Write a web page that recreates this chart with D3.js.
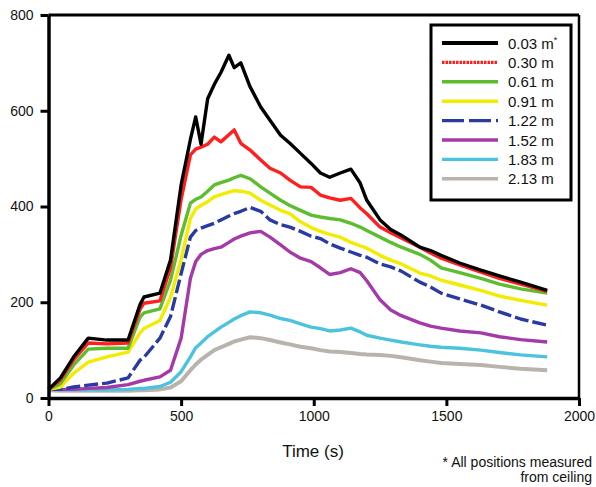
<!DOCTYPE html>
<html>
<head>
<meta charset="utf-8">
<script src="https://cdn.jsdelivr.net/npm/d3@7"></script>
<style>
  html, body { margin: 0; padding: 0; background: #fff; }
  svg { display: block; font-family: "Liberation Sans", Arial, sans-serif; }
</style>
</head>
<body>
<svg id="chart" width="596" height="487"></svg>
<script>
// ---- Data ----
const times = [0, 45, 95, 150, 220, 300, 345, 360, 420, 460, 500, 535, 555, 575, 600, 625, 650, 680, 700, 725, 760, 800, 835, 875, 910, 950, 990, 1025, 1060, 1100, 1140, 1175, 1200, 1250, 1290, 1330, 1400, 1440, 1480, 1550, 1630, 1700, 1780, 1880];

const s003 = [18, 42, 86, 125, 121, 121, 195, 211, 219, 288, 445, 540, 587, 530, 625, 655, 680, 716, 690, 700, 650, 608, 580, 549, 532, 511, 490, 470, 461, 470, 478, 449, 413, 372, 352, 340, 315, 308, 298, 282, 267, 255, 242, 225];
const s030 = [18, 38, 80, 115, 113, 115, 185, 198, 203, 272, 415, 508, 520, 524, 530, 545, 535, 550, 560, 532, 518, 497, 480, 470, 455, 441, 440, 424, 418, 413, 417, 397, 385, 357, 345, 334, 315, 303, 292, 278, 263, 250, 238, 223];
const s061 = [18, 30, 69, 102, 104, 104, 169, 178, 186, 246, 340, 407, 415, 420, 432, 445, 450, 455, 460, 465, 458, 441, 428, 413, 402, 392, 382, 378, 375, 372, 365, 357, 350, 336, 325, 315, 300, 288, 272, 262, 250, 238, 228, 219];
const s091 = [18, 23, 52, 75, 86, 96, 136, 145, 162, 210, 290, 375, 395, 402, 410, 420, 425, 430, 433, 432, 428, 413, 403, 392, 385, 368, 356, 348, 342, 336, 325, 318, 313, 298, 288, 280, 261, 255, 246, 236, 225, 213, 204, 194];
const s122 = [18, 18, 23, 27, 31, 42, 79, 85, 125, 170, 260, 336, 350, 355, 360, 365, 372, 380, 385, 390, 398, 390, 372, 362, 357, 348, 338, 333, 322, 313, 305, 298, 294, 280, 274, 265, 242, 232, 219, 207, 194, 180, 165, 152];
const s152 = [18, 18, 18, 20, 22, 28, 35, 37, 44, 58, 125, 250, 285, 300, 308, 312, 315, 325, 332, 338, 345, 348, 336, 320, 305, 292, 285, 272, 258, 262, 270, 262, 245, 205, 184, 172, 157, 150, 146, 140, 136, 128, 122, 117];
const s183 = [18, 17, 17, 17, 17, 18, 20, 20, 24, 33, 55, 86, 105, 115, 128, 138, 148, 158, 165, 172, 180, 178, 173, 166, 162, 155, 148, 145, 140, 142, 146, 138, 131, 125, 121, 117, 111, 108, 106, 104, 100, 95, 90, 86];
const s213 = [16, 15, 15, 15, 15, 15, 16, 16, 18, 22, 35, 58, 70, 80, 90, 100, 106, 113, 118, 122, 127, 125, 121, 116, 112, 107, 104, 100, 97, 96, 94, 92, 91, 90, 88, 85, 79, 76, 73, 71, 69, 65, 61, 58];

const seriesNames = ["0.03 m", "0.30 m", "0.61 m", "0.91 m", "1.22 m", "1.52 m", "1.83 m", "2.13 m"];
const seriesValues = [s003, s030, s061, s091, s122, s152, s183, s213];
const seriesColors = ["#000000", "#ff1f1f", "#5cbd2e", "#f2ec00", "#2a3aa3", "#a43aa8", "#4cc3dc", "#b8b3ad"];
const plotDash = [null, null, null, null, "14,4", null, null, null];
const legendDash = [null, "2.5,1", null, null, "22,5", null, null, null];

const xTicks = [0, 500, 1000, 1500, 2000];
const yTicks = [0, 200, 400, 600, 800];

// ---- Chart ----
const svg = d3.select("#chart");
const x = d3.scaleLinear().domain([0, 2000]).range([48.5, 579]);
const y = d3.scaleLinear().domain([0, 800]).range([398, 15]);

svg.append("rect").attr("width", 596).attr("height", 487).attr("fill", "#fff");

// lines (drawn bottom series first so black ends on top)
const line = d3.line().x(d => x(d[0])).y(d => y(d[1])).curve(d3.curveLinear);
const order = d3.range(seriesValues.length).reverse();
svg.append("g").selectAll("path")
  .data(order)
  .join("path")
  .attr("d", i => line(times.map((t, k) => [t, seriesValues[i][k]])))
  .attr("fill", "none")
  .attr("stroke", i => seriesColors[i])
  .attr("stroke-width", i => i === 7 ? 4 : 3.4)
  .attr("stroke-dasharray", i => plotDash[i])
  .attr("stroke-linejoin", "round");

// frame top & right
svg.append("line").attr("x1", x(0)).attr("x2", x(2000)).attr("y1", y(800)).attr("y2", y(800))
  .attr("stroke", "#000").attr("stroke-width", 3);
svg.append("line").attr("x1", x(2000)).attr("x2", x(2000)).attr("y1", y(800)).attr("y2", y(0))
  .attr("stroke", "#000").attr("stroke-width", 2.5);

// axes
const xAxis = d3.axisBottom(x).tickValues(xTicks).tickFormat(d3.format("d"))
  .tickSize(8).tickSizeOuter(0).tickPadding(5);
const yAxis = d3.axisLeft(y).tickValues(yTicks).tickFormat(d3.format("d"))
  .tickSize(8).tickSizeOuter(0).tickPadding(7);

const gx = svg.append("g").attr("transform", `translate(0,${y(0)})`).call(xAxis);
const gy = svg.append("g").attr("transform", `translate(${x(0)},0)`).call(yAxis);
[gx, gy].forEach(g => {
  g.select(".domain").attr("stroke", "#000").attr("stroke-width", 3.5);
  g.selectAll(".tick line").attr("stroke", "#000").attr("stroke-width", 3);
  g.selectAll(".tick text").attr("fill", "#111").attr("font-size", 14)
    .attr("font-family", "'Liberation Sans', Arial, sans-serif");
});

// axis title
svg.append("text").attr("x", 313).attr("y", 457).attr("text-anchor", "middle")
  .attr("font-size", 17).attr("fill", "#111").text("Time (s)");

// footnote
svg.append("text").attr("x", 592).attr("y", 467).attr("text-anchor", "end")
  .attr("font-size", 14).attr("fill", "#111").text("* All positions measured");
svg.append("text").attr("x", 592).attr("y", 482).attr("text-anchor", "end")
  .attr("font-size", 14).attr("fill", "#111").text("from ceiling");

// legend
const lg = svg.append("g");
lg.append("rect").attr("x", 431).attr("y", 25).attr("width", 140).attr("height", 175)
  .attr("fill", "#fff").attr("stroke", "#000").attr("stroke-width", 3);
const rowY = i => 43 + i * 19.4;
seriesNames.forEach((name, i) => {
  lg.append("line").attr("x1", 442).attr("x2", 498).attr("y1", rowY(i)).attr("y2", rowY(i))
    .attr("stroke", seriesColors[i]).attr("stroke-width", i === 0 ? 4 : 3.4)
    .attr("stroke-dasharray", legendDash[i]);
  const t = lg.append("text").attr("x", 508).attr("y", rowY(i) + 5.5)
    .attr("font-size", 15).attr("fill", "#111").text(name);
  if (i === 0) {
    t.append("tspan").attr("font-size", 9).attr("dy", -6).text("*");
  }
});
</script>
</body>
</html>
